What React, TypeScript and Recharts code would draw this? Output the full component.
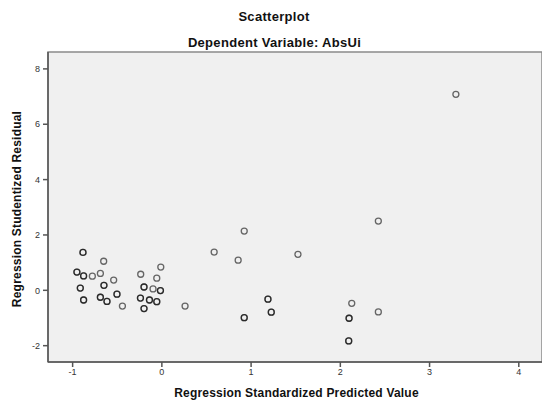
import React from 'react';
import { ScatterChart, Scatter, XAxis, YAxis, ReferenceArea } from 'recharts';

// regression standardized predicted value (x) and studentized residual (y)
const predicted = [
  -0.884, -0.652, -0.952, -0.877, -0.779, -0.689, -0.914, -0.649, -0.540, -0.877,
  -0.689, -0.615, -0.503, -0.442, -0.012, -0.237, -0.057, -0.200, -0.099, -0.016,
  -0.240, -0.139, -0.057, -0.200, 0.260, 0.923, 0.586, 0.855, 1.525, 2.426,
  1.189, 1.226, 0.923, 2.128, 2.426, 2.098, 2.094, 3.295,
];
const residual = [
  1.37, 1.05, 0.66, 0.52, 0.51, 0.61, 0.08, 0.18, 0.37, -0.35,
  -0.25, -0.40, -0.14, -0.57, 0.84, 0.58, 0.44, 0.12, 0.05, -0.01,
  -0.28, -0.35, -0.41, -0.66, -0.57, 2.14, 1.38, 1.09, 1.30, 2.50,
  -0.32, -0.79, -0.99, -0.47, -0.78, -1.01, -1.83, 7.08,
];
// overlapping cases at the same spot (drawn darker)
const cases = [
  2, 1, 2, 2, 1, 1, 2, 2, 1, 2,
  2, 2, 2, 1, 1, 1, 1, 2, 1, 2,
  2, 2, 2, 2, 1, 1, 1, 1, 1, 1,
  2, 2, 2, 1, 1, 2, 2, 1,
];
const xTicks = [-1, 0, 1, 2, 3, 4];
const yTicks = [-2, 0, 2, 4, 6, 8];
const xDomain: [number, number] = [-1.276, 4.26];
const yDomain: [number, number] = [-2.59, 8.61];

const data = predicted.flatMap((x, i) =>
  Array.from({ length: cases[i] }, () => ({ x, y: residual[i] }))
);

const font = '"Liberation Sans", Arial, sans-serif';

const Ring = (props: any) => (
  <circle
    cx={props.cx}
    cy={props.cy}
    r={3}
    fill="none"
    stroke="#000"
    strokeOpacity={0.58}
    strokeWidth={1.3}
  />
);

export default function App() {
  return (
    <div style={{ position: 'absolute', left: 0, top: 0, width: 542, height: 402, background: '#fff', fontFamily: font }}>
      <ScatterChart width={542} height={402} margin={{ top: 52, right: 0, bottom: 0, left: 0 }}>
        <ReferenceArea
          x1={xDomain[0]}
          x2={xDomain[1]}
          y1={yDomain[0]}
          y2={yDomain[1]}
          fill="#f0f0f0"
          fillOpacity={1}
          stroke="#8a8a8a"
          strokeWidth={1.5}
        />
        <XAxis
          type="number"
          dataKey="x"
          domain={xDomain}
          ticks={xTicks}
          allowDataOverflow
          height={40}
          tickSize={5}
          tickMargin={2}
          stroke="#555"
          strokeWidth={1.5}
          tick={{ fontSize: 9, fill: '#333', fontFamily: font }}
        />
        <YAxis
          type="number"
          dataKey="y"
          domain={yDomain}
          ticks={yTicks}
          allowDataOverflow
          width={48}
          tickSize={5}
          tickMargin={3}
          stroke="#555"
          strokeWidth={1.5}
          tick={{ fontSize: 9, fill: '#333', fontFamily: font }}
        />
        <Scatter data={data} shape={Ring} isAnimationActive={false} />
      </ScatterChart>
      <div style={{ position: 'absolute', left: 0, top: 9, width: 548, textAlign: 'center', fontSize: 13, fontWeight: 'bold', letterSpacing: 0.3, color: '#111' }}>
        Scatterplot
      </div>
      <div style={{ position: 'absolute', left: 0, top: 35, width: 549, textAlign: 'center', fontSize: 13, fontWeight: 'bold', letterSpacing: 0.3, color: '#111' }}>
        Dependent Variable: AbsUi
      </div>
      <div style={{ position: 'absolute', left: 0, top: 386, width: 593, textAlign: 'center', fontSize: 12, fontWeight: 'bold', letterSpacing: 0.2, color: '#111' }}>
        Regression Standardized Predicted Value
      </div>
      <div style={{ position: 'absolute', left: 17, top: 210, width: 0, height: 0 }}>
        <div style={{ position: 'absolute', left: -150, top: -8, width: 300, textAlign: 'center', transform: 'rotate(-90deg)', fontSize: 12, fontWeight: 'bold', letterSpacing: 0.2, color: '#111' }}>
          Regression Studentized Residual
        </div>
      </div>
    </div>
  );
}
